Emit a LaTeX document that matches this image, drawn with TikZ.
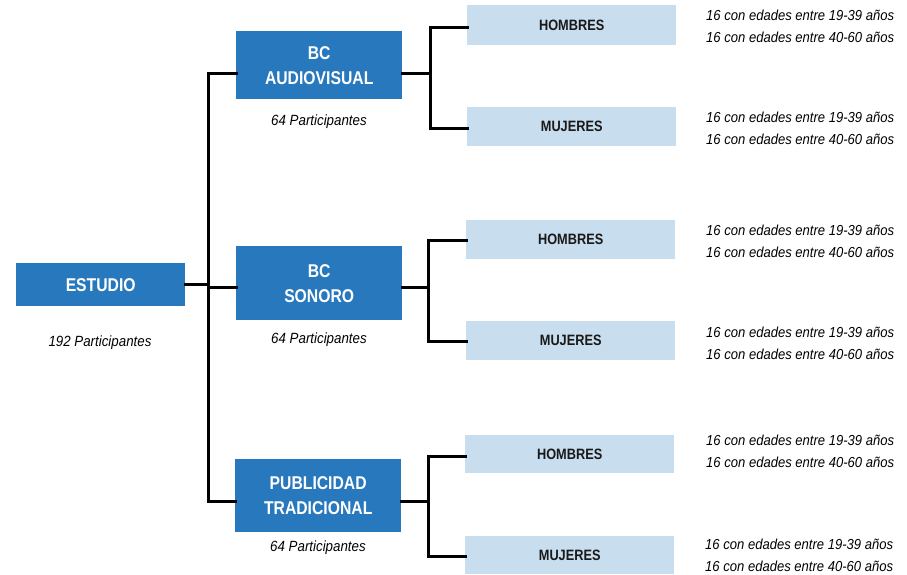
\documentclass[tikz,border=0pt]{standalone}
\usepackage{fontspec}
\setmainfont{Liberation Sans}
\newfontfamily\condb[FakeStretch=0.85]{Liberation Sans Bold}
\newfontfamily\condi[FakeStretch=0.9]{Liberation Sans Italic}
\definecolor{dblue}{HTML}{2878BE}
\definecolor{lblue}{HTML}{C8DDED}
\begin{document}
\begin{tikzpicture}[x=1pt,y=-1pt,
  mainbox/.style={fill=dblue,text=white,font=\condb\fontsize{18.5}{25}\selectfont,align=center,inner sep=0pt,anchor=north west},
  subbox/.style={fill=lblue,text=black!90,font=\condb\fontsize{15}{16}\selectfont,inner sep=0pt,anchor=north west},
  note/.style={font=\condi\fontsize{14.5}{22}\selectfont,align=left,anchor=west,inner sep=0pt},
  pnote/.style={font=\condi\fontsize{14.8}{16}\selectfont,inner sep=0pt},
  conn/.style={line width=3pt,line cap=rect}]
\useasboundingbox (0,0) rectangle (907,574);
% main boxes
\node[mainbox,minimum width=169pt,minimum height=43pt] (estudio) at (16,263) {ESTUDIO};
\node[mainbox,minimum width=166pt,minimum height=68pt] (av) at (236,31) {BC\\AUDIOVISUAL};
\node[mainbox,minimum width=166pt,minimum height=74pt] (so) at (236,246) {BC\\SONORO};
\node[mainbox,minimum width=166pt,minimum height=73pt] (pu) at (235,459) {PUBLICIDAD\\TRADICIONAL};
% participant notes
\node[pnote] (p0) at (100,343) {192 Participantes};
\node[pnote] (p1) at (319,122) {64 Participantes};
\node[pnote] (p2) at (319,340) {64 Participantes};
\node[pnote] (p3) at (318,548) {64 Participantes};
% sub boxes
\node[subbox,minimum width=209pt,minimum height=40pt] (h1) at (467,5) {HOMBRES};
\node[subbox,minimum width=209pt,minimum height=39pt] (m1) at (467,107) {MUJERES};
\node[subbox,minimum width=209pt,minimum height=39pt] (h2) at (466,220) {HOMBRES};
\node[subbox,minimum width=209pt,minimum height=39pt] (m2) at (466,321) {MUJERES};
\node[subbox,minimum width=209pt,minimum height=38pt] (h3) at (465,435) {HOMBRES};
\node[subbox,minimum width=209pt,minimum height=38pt] (m3) at (465,536) {MUJERES};
% age notes
\node[note] (n1) at (706,26) {16 con edades entre 19-39 años\\16 con edades entre 40-60 años};
\node[note] (n2) at (706,128) {16 con edades entre 19-39 años\\16 con edades entre 40-60 años};
\node[note] (n3) at (706,241) {16 con edades entre 19-39 años\\16 con edades entre 40-60 años};
\node[note] (n4) at (706,343) {16 con edades entre 19-39 años\\16 con edades entre 40-60 años};
\node[note] (n5) at (706,451) {16 con edades entre 19-39 años\\16 con edades entre 40-60 años};
\node[note] (n6) at (705,555) {16 con edades entre 19-39 años\\16 con edades entre 40-60 años};
% connectors
\coordinate (t1) at (208,73);
\coordinate (t2) at (208,501);
\draw[conn] (estudio.east) -- (estudio.east -| t1);
\draw[conn] (av.west |- t1) -- (t1) -- (t2) -- (pu.west |- t2);
\draw[conn] (so.west |- 0,287) -- (208,287);
% branch AV
\coordinate (a1) at (430,27);
\coordinate (a2) at (430,128);
\draw[conn] (av.east |- t1) -- (430,73);
\draw[conn] (h1.west |- a1) -- (a1) -- (a2) -- (m1.west |- a2);
% branch SO
\coordinate (b1) at (428,240);
\coordinate (b2) at (428,341);
\draw[conn] (so.east |- 0,287) -- (428,287);
\draw[conn] (h2.west |- b1) -- (b1) -- (b2) -- (m2.west |- b2);
% branch PU
\coordinate (c1) at (428,456);
\coordinate (c2) at (428,556);
\draw[conn] (pu.east |- t2) -- (428,501);
\draw[conn] (h3.west |- c1) -- (c1) -- (c2) -- (m3.west |- c2);
\end{tikzpicture}
\end{document}
